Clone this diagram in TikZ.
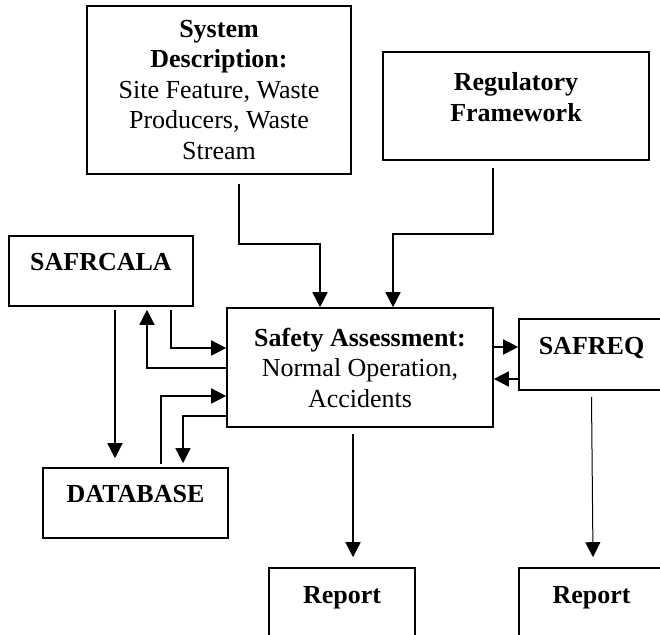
\documentclass[tikz,border=0pt]{standalone}
\usepackage{fontspec}
\setmainfont{Liberation Serif}
\usetikzlibrary{arrows.meta}
\tikzset{
  box/.style={draw, line width=1.6pt, align=center, inner sep=0pt},
  arr/.style={-{Triangle[length=15pt,width=15pt]}, line width=1.5pt},
}

\begin{document}
\begin{tikzpicture}[x=1pt,y=-1pt,font=\fontsize{26}{30.5}\selectfont]
  \useasboundingbox (0,0) rectangle (660,634);
  \clip (0,0) rectangle (660,634);

  \node[box, minimum width=264pt, minimum height=168pt] (sys) at (219,90)
    {\textbf{System}\\ \textbf{Description:}\\ Site Feature, Waste\\ Producers, Waste\\ Stream};
  \node[box, minimum width=266pt, minimum height=108pt, text depth=18pt] (reg) at (516,106)
    {\textbf{Regulatory}\\ \textbf{Framework}};
  \node[box, minimum width=184pt, minimum height=70pt, text depth=18pt] (safr) at (101,271) {\textbf{SAFRCALA}};
  \node[box, minimum width=266pt, minimum height=119pt] (safety) at (360,367.5)
    {\textbf{Safety Assessment:}\\ Normal Operation,\\ Accidents};
  \node[box, minimum width=145pt, minimum height=71pt, text depth=17pt] (safreq) at (591.5,354.5) {\textbf{SAFREQ}};
  \node[box, minimum width=185pt, minimum height=70pt, text depth=18pt] (db) at (135.5,503) {\textbf{DATABASE}};
  \node[box, minimum width=146pt, minimum height=70pt, text depth=16pt] (rep1) at (342,603) {\textbf{Report}};
  \node[box, minimum width=145pt, minimum height=70pt, text depth=16pt] (rep2) at (591.5,603) {\textbf{Report}};

  % inputs
  \draw[arr] ([xshift=20pt,yshift=-9pt]sys.south) -- ++(0,60) -| ([xshift=-40pt]safety.north);
  \draw[arr] ([xshift=-23pt,yshift=-7pt]reg.south) -- ++(0,66) -| ([xshift=33pt]safety.north);

  % SAFRCALA and DATABASE
  \draw[arr] ([xshift=70pt,yshift=-3pt]safr.south) |- ([yshift=19.5pt]safety.west);
  \draw[arr] ([yshift=-0.5pt]safety.west) -| ([xshift=46pt,yshift=-3pt]safr.south);
  \draw[arr] ([xshift=25.5pt,yshift=3pt]db.north) |- ([yshift=-28.5pt]safety.west);
  \draw[arr] ([yshift=-48.5pt]safety.west) -| ([xshift=47.5pt,yshift=4pt]db.north);
  \draw[arr] ([xshift=14pt,yshift=-3pt]safr.south) -- ([xshift=-20.5pt,yshift=9pt]db.north);

  % SAFREQ
  \coordinate (q1) at ([yshift=7.5pt]safreq.west);
  \coordinate (q2) at ([yshift=-24.5pt]safreq.west);
  \draw[arr] (q1 -| safety.east) -- (q1);
  \draw[arr] (q2) -- (q2 -| safety.east);

  % reports
  \draw[arr] ([xshift=-7pt,yshift=-6pt]safety.south) -- ([xshift=11pt,yshift=10pt]rep1.north);
  \draw[arr, line width=1pt] ([yshift=-6pt]safreq.south) -- ([xshift=1.5pt,yshift=10pt]rep2.north);
\end{tikzpicture}
\end{document}
